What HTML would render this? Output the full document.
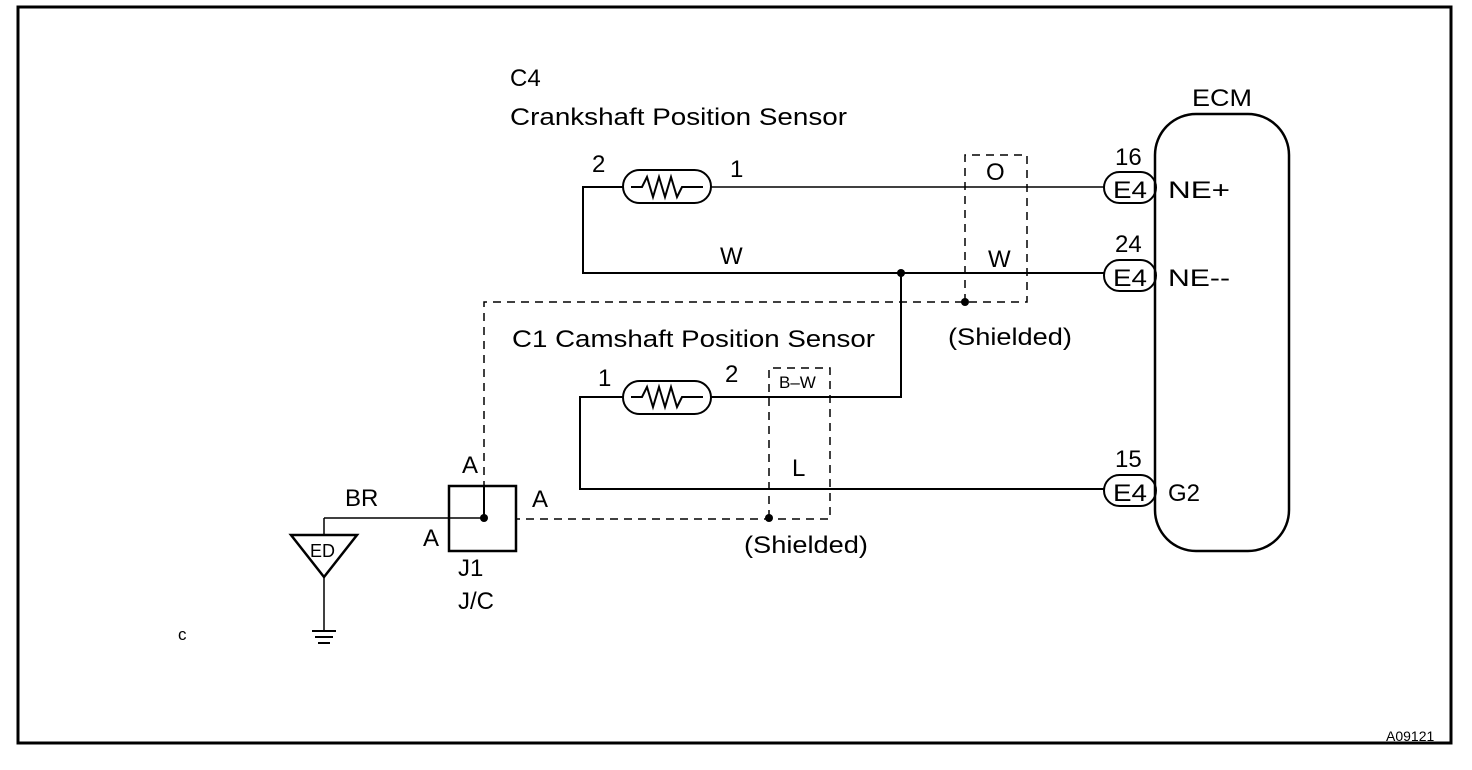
<!DOCTYPE html>
<html><head><meta charset="utf-8"><style>
html,body{margin:0;padding:0;background:#fff;}
svg{display:block;}
text{font-family:"Liberation Sans",sans-serif;fill:#000;}
</style></head><body>
<svg width="1472" height="770" viewBox="0 0 1472 770" xmlns="http://www.w3.org/2000/svg">
<rect x="18" y="7" width="1433" height="736" fill="none" stroke="#000" stroke-width="3"/>
<g stroke="#000" fill="none" stroke-width="2">
<rect x="1155" y="114" width="134" height="437" rx="41" stroke-width="2.5"/>
<rect x="1104" y="172" width="52" height="31" rx="15.5"/>
<rect x="1104" y="260" width="52" height="31" rx="15.5"/>
<rect x="1104" y="475" width="52" height="31" rx="15.5"/>
<rect x="623" y="170" width="88" height="33" rx="16.5"/>
<polyline points="631,187 642,187 647,177 653,197 659,177 665,197 671,177 677,197 682,187 703,187"/>
<line x1="711" y1="187" x2="1104" y2="187" stroke-width="1.5"/>
<polyline points="623,187 583,187 583,273 1104,273"/>
<polyline points="901,273 901,397 711,397"/>
<rect x="623" y="381" width="88" height="33" rx="16.5"/>
<polyline points="631,397 642,397 647,387 653,407 659,387 665,407 671,387 677,407 682,397 703,397"/>
<polyline points="623,397 580,397 580,489 1104,489"/>
<g stroke-dasharray="8,6" stroke-width="1.5">
<polyline points="965,302 965,155 1027,155 1027,302 484,302 484,485"/>
<polyline points="769,518 769,368 830,368 830,519 516,519"/>
</g>
<rect x="449" y="486" width="67" height="65" stroke-width="2.5"/>
<line x1="484" y1="486" x2="484" y2="518"/>
<line x1="324" y1="518" x2="484" y2="518" stroke-width="1.5"/>
<line x1="324" y1="518" x2="324" y2="535" stroke-width="1.5"/>
<polygon points="291,535 357,535 324,577" stroke-width="2.5"/>
<line x1="324" y1="577" x2="324" y2="630" stroke-width="1.5"/>
<line x1="312" y1="631" x2="336" y2="631"/>
<line x1="315" y1="637" x2="333" y2="637"/>
<line x1="318" y1="643" x2="330" y2="643"/>
</g>
<g fill="#000">
<circle cx="901" cy="273" r="4"/>
<circle cx="965" cy="302" r="4"/>
<circle cx="484" cy="518" r="4"/>
<circle cx="769" cy="518" r="4"/>
</g>
<g font-size="24">
<text x="1192" y="106" textLength="60" lengthAdjust="spacingAndGlyphs">ECM</text>
<text x="1115" y="165">16</text>
<text x="1115" y="252">24</text>
<text x="1115" y="467">15</text>
<text x="1113" y="198" textLength="34" lengthAdjust="spacingAndGlyphs">E4</text>
<text x="1113" y="286" textLength="34" lengthAdjust="spacingAndGlyphs">E4</text>
<text x="1113" y="501" textLength="34" lengthAdjust="spacingAndGlyphs">E4</text>
<text x="1168" y="198" textLength="62" lengthAdjust="spacingAndGlyphs">NE+</text>
<text x="1168" y="286" textLength="62" lengthAdjust="spacingAndGlyphs">NE--</text>
<text x="1168" y="501">G2</text>
<text x="510" y="86">C4</text>
<text x="510" y="125" textLength="337" lengthAdjust="spacingAndGlyphs">Crankshaft Position Sensor</text>
<text x="592" y="172">2</text>
<text x="730" y="177">1</text>
<text x="986" y="180">O</text>
<text x="720" y="264">W</text>
<text x="988" y="267">W</text>
<text x="948" y="345" textLength="124" lengthAdjust="spacingAndGlyphs">(Shielded)</text>
<text x="512" y="347" textLength="363" lengthAdjust="spacingAndGlyphs">C1 Camshaft Position Sensor</text>
<text x="598" y="386">1</text>
<text x="725" y="382">2</text>
<text x="792" y="476">L</text>
<text x="744" y="553" textLength="124" lengthAdjust="spacingAndGlyphs">(Shielded)</text>
<text x="462" y="473">A</text>
<text x="532" y="507">A</text>
<text x="423" y="546">A</text>
<text x="345" y="506">BR</text>
<text x="458" y="576">J1</text>
<text x="458" y="609">J/C</text>
<text x="178" y="640" font-size="17">c</text>
</g>
<text x="779" y="388" font-size="17">B–W</text>
<text x="310" y="557" font-size="18">ED</text>
<text x="1386" y="741" font-size="14">A09121</text>
</svg>
</body></html>
